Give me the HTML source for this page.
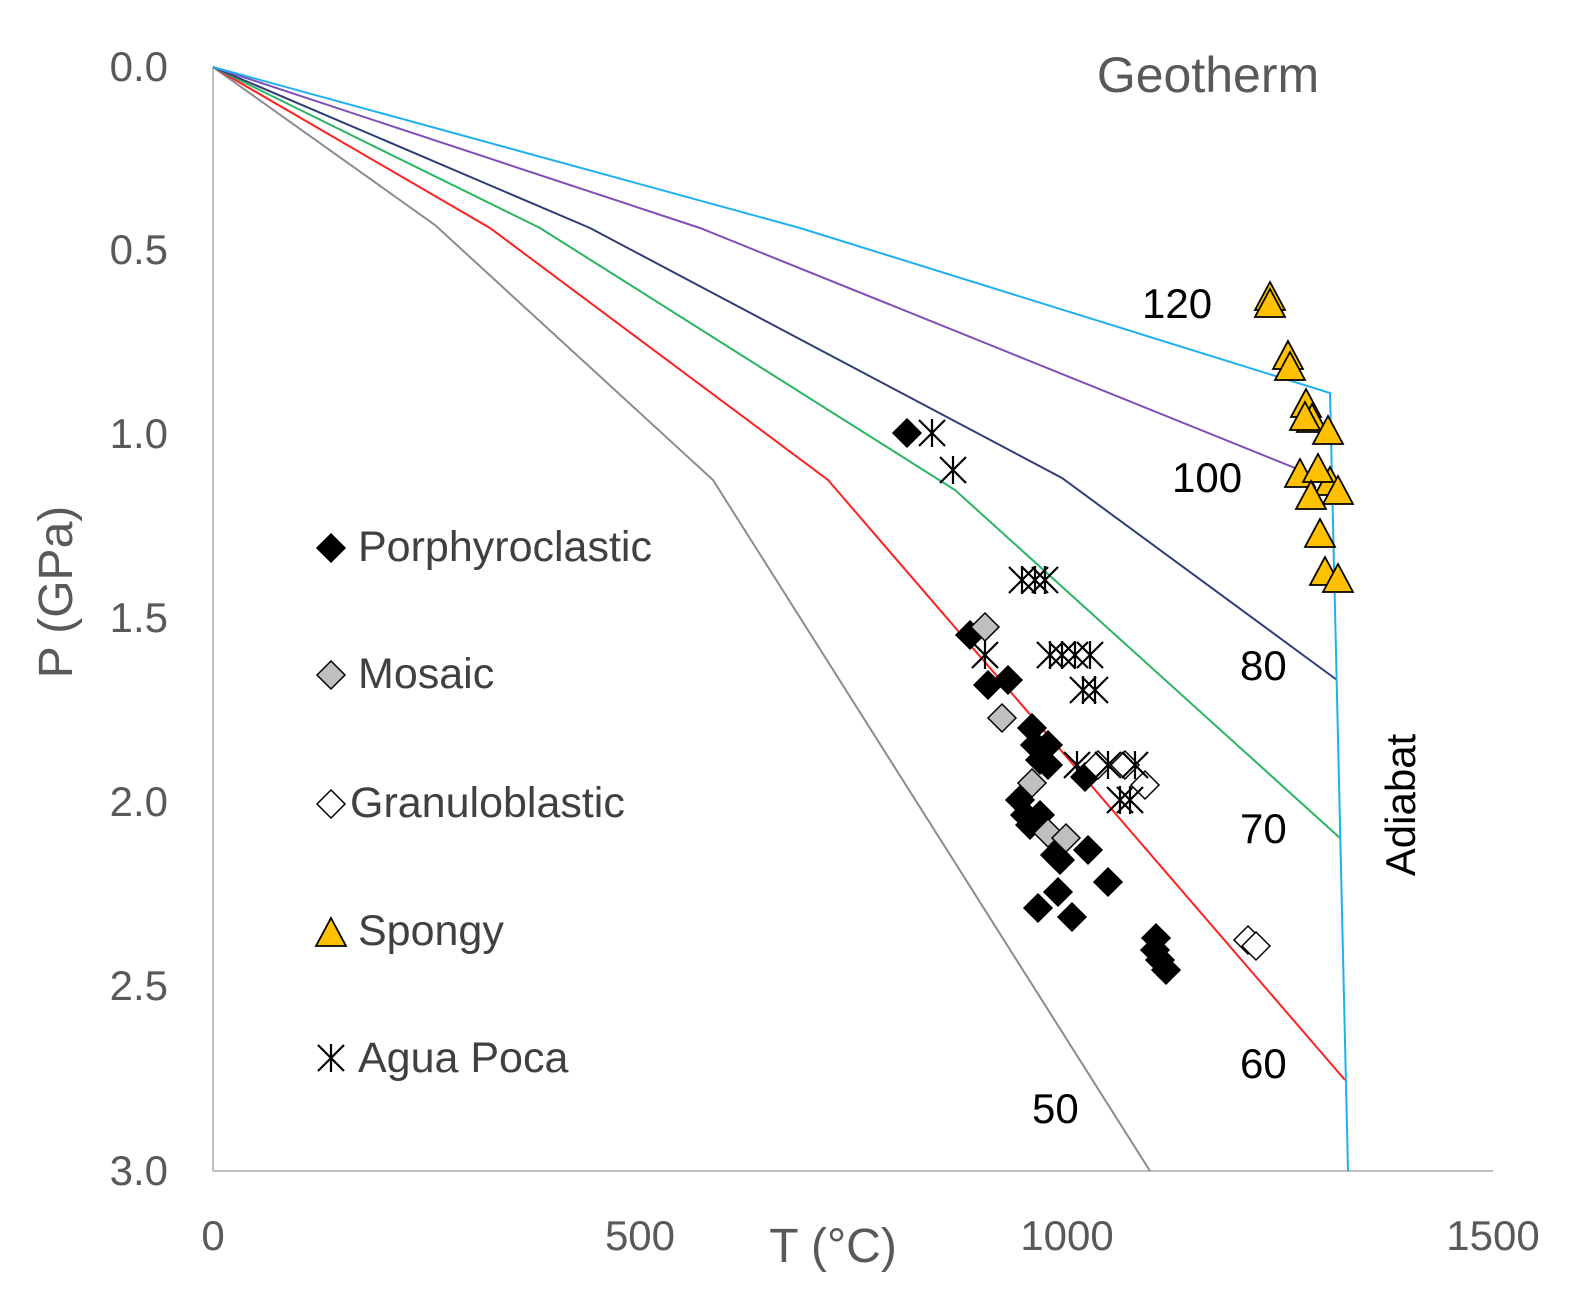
<!DOCTYPE html>
<html><head><meta charset="utf-8"><style>body{margin:0;background:#fff}svg{display:block}</style></head>
<body>
<svg width="1592" height="1312" viewBox="0 0 1592 1312" xmlns="http://www.w3.org/2000/svg" font-family="Liberation Sans, sans-serif">
<defs>
<path id="dm" d="M0,-14 L14,0 L0,14 L-14,0Z" stroke="#000" stroke-width="1.5"/>
<path id="tr" d="M0,-16 L15,12 L-15,12Z" fill="#FFC000" stroke="#000" stroke-width="1.8"/>
<path id="as" d="M-13,-13L13,13M-13,13L13,-13M0,-14V14" stroke="#000" stroke-width="2.2" fill="none"/>
</defs>
<g fill="none" stroke-width="2">
<line x1="213" y1="67" x2="213" y2="1171" stroke="#bfbfbf"/>
<line x1="213" y1="1171" x2="1493" y2="1171" stroke="#bfbfbf"/>
<polyline points="213,67 435,225 713,480 1150,1171" stroke="#8c8c8c"/>
<polyline points="213,67 490,228 828,480 1345,1080" stroke="#ff2020"/>
<polyline points="213,67 540,228 955,490 1340,838" stroke="#2bb463"/>
<polyline points="213,67 590,228 1062,478 1337,680" stroke="#2f3e78"/>
<polyline points="213,67 700,228 1300,470" stroke="#7f4fb8"/>
<polyline points="213,67 800,228 1330,393 1348,1171" stroke="#1fb0ee"/>
</g>
<g fill="#595959" font-size="42">
<text x="168" y="81" text-anchor="end">0.0</text>
<text x="168" y="264" text-anchor="end">0.5</text>
<text x="168" y="448" text-anchor="end">1.0</text>
<text x="168" y="632" text-anchor="end">1.5</text>
<text x="168" y="816" text-anchor="end">2.0</text>
<text x="168" y="1000" text-anchor="end">2.5</text>
<text x="168" y="1185" text-anchor="end">3.0</text>
<text x="213" y="1250" text-anchor="middle">0</text>
<text x="640" y="1250" text-anchor="middle">500</text>
<text x="1067" y="1250" text-anchor="middle">1000</text>
<text x="1493" y="1250" text-anchor="middle">1500</text>
</g>
<text x="833" y="1262" font-size="48" fill="#595959" text-anchor="middle">T (°C)</text>
<text transform="translate(72,592) rotate(-90)" font-size="48" fill="#595959" text-anchor="middle">P (GPa)</text>
<text x="1208" y="92" font-size="50" fill="#595959" text-anchor="middle">Geotherm</text>
<text transform="translate(1415,805) rotate(-90)" font-size="42" fill="#000" text-anchor="middle">Adiabat</text>
<g font-size="42" fill="#000">
<text x="1142" y="318">120</text>
<text x="1172" y="492">100</text>
<text x="1240" y="680">80</text>
<text x="1240" y="843">70</text>
<text x="1240" y="1078">60</text>
<text x="1032" y="1123">50</text>
</g>
<g font-size="43" fill="#404040">
<use href="#dm" x="331" y="548" fill="#000"/><text x="358" y="561">Porphyroclastic</text>
<use href="#dm" x="331" y="675" fill="#bfbfbf"/><text x="358" y="688">Mosaic</text>
<use href="#dm" x="331" y="804" fill="#fff"/><text x="350" y="817">Granuloblastic</text>
<use href="#tr" x="331" y="934"/><text x="358" y="945">Spongy</text>
<use href="#as" x="331" y="1058"/><text x="358" y="1072">Agua Poca</text>
</g>
<g fill="#000">
<use href="#dm" x="907" y="433"/><use href="#dm" x="970" y="635"/><use href="#dm" x="988" y="685"/><use href="#dm" x="1008" y="680"/>
<use href="#dm" x="1032" y="728"/><use href="#dm" x="1035" y="745"/><use href="#dm" x="1048" y="745"/><use href="#dm" x="1040" y="760"/><use href="#dm" x="1048" y="765"/>
<use href="#dm" x="1085" y="777"/><use href="#dm" x="1020" y="800"/><use href="#dm" x="1025" y="815"/><use href="#dm" x="1040" y="815"/><use href="#dm" x="1030" y="825"/>
<use href="#dm" x="1055" y="855"/><use href="#dm" x="1060" y="860"/><use href="#dm" x="1088" y="850"/><use href="#dm" x="1108" y="882"/><use href="#dm" x="1058" y="892"/>
<use href="#dm" x="1038" y="908"/><use href="#dm" x="1072" y="917"/><use href="#dm" x="1156" y="938"/><use href="#dm" x="1155" y="950"/><use href="#dm" x="1160" y="960"/><use href="#dm" x="1166" y="970"/>
</g>
<g fill="#bfbfbf">
<use href="#dm" x="985" y="627"/><use href="#dm" x="1002" y="718"/><use href="#dm" x="1032" y="783"/><use href="#dm" x="1048" y="833"/><use href="#dm" x="1066" y="838"/>
</g>
<g fill="#fff">
<use href="#dm" x="1098" y="765"/><use href="#dm" x="1125" y="765"/><use href="#dm" x="1145" y="785"/><use href="#dm" x="1248" y="940"/><use href="#dm" x="1256" y="946"/>
</g>
<g>
<use href="#as" x="932" y="433"/><use href="#as" x="953" y="470"/><use href="#as" x="1022" y="580"/><use href="#as" x="1035" y="580"/><use href="#as" x="1045" y="580"/>
<use href="#as" x="985" y="655"/><use href="#as" x="1050" y="655"/><use href="#as" x="1062" y="655"/><use href="#as" x="1075" y="655"/><use href="#as" x="1090" y="655"/>
<use href="#as" x="1083" y="690"/><use href="#as" x="1095" y="690"/><use href="#as" x="1077" y="765"/><use href="#as" x="1108" y="765"/><use href="#as" x="1135" y="765"/>
<use href="#as" x="1120" y="800"/><use href="#as" x="1130" y="800"/>
</g>
<g>
<use href="#tr" x="1270" y="298"/><use href="#tr" x="1270" y="305"/><use href="#tr" x="1288" y="357"/><use href="#tr" x="1290" y="368"/>
<use href="#tr" x="1306" y="405"/><use href="#tr" x="1312" y="420"/><use href="#tr" x="1305" y="418"/><use href="#tr" x="1328" y="432"/>
<use href="#tr" x="1300" y="475"/><use href="#tr" x="1330" y="483"/><use href="#tr" x="1318" y="470"/><use href="#tr" x="1338" y="492"/>
<use href="#tr" x="1311" y="497"/><use href="#tr" x="1320" y="535"/><use href="#tr" x="1325" y="573"/><use href="#tr" x="1338" y="580"/>
</g>
</svg>
</body></html>
